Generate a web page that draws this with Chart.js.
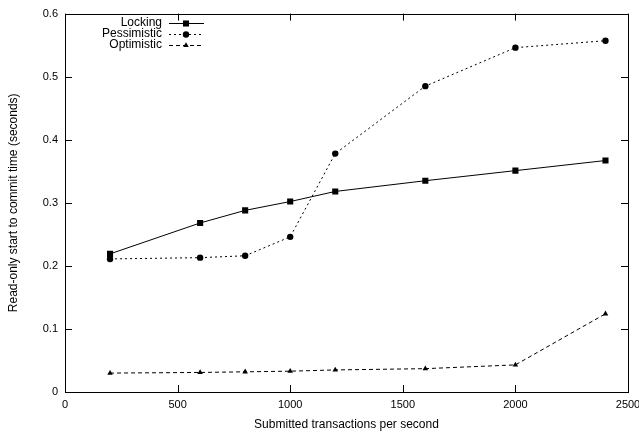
<!DOCTYPE html>
<html>
<head>
<meta charset="utf-8">
<script src="https://cdn.jsdelivr.net/npm/chart.js@4"></script>
<style>
  html, body { margin: 0; padding: 0; background: #fff; }
  #wrap { width: 639px; height: 434px; }
</style>
</head>
<body>
<div id="wrap"><canvas id="chart" width="639" height="434"></canvas></div>
<script>
var rates = [200, 600, 800, 1000, 1200, 1600, 2000, 2400];
var locking = [0.219, 0.268, 0.288, 0.302, 0.318, 0.335, 0.351, 0.367];
var pessimistic = [0.211, 0.213, 0.216, 0.246, 0.378, 0.485, 0.546, 0.557];
var optimistic = [0.030, 0.031, 0.032, 0.033, 0.035, 0.037, 0.043, 0.124];
var xTicks = [0, 500, 1000, 1500, 2000, 2500];
var yTicks = [0, 0.1, 0.2, 0.3, 0.4, 0.5, 0.6];

var font = "Liberation Sans, Arial, Helvetica, sans-serif";

function points(values) {
    return rates.map((r, i) => ({ x: r, y: values[i] }));
}

function series(label, values, style, dash, radius) {
    return {
        label: label,
        data: points(values),
        borderColor: '#000',
        backgroundColor: '#000',
        borderWidth: 1,
        borderDash: dash,
        pointStyle: style,
        pointRadius: radius,
        pointBorderWidth: 0,
        tension: 0
    };
}

// gnuplot style frame, inward ticks on all four sides
var framePlugin = {
    id: 'frame',
    afterDatasetsDraw(chart) {
        var ctx = chart.ctx, a = chart.chartArea;
        var xs = chart.scales.x, ys = chart.scales.y;
        ctx.save();
        ctx.strokeStyle = '#000';
        ctx.lineWidth = 1;
        ctx.setLineDash([]);
        ctx.strokeRect(Math.round(a.left) + 0.5, Math.round(a.top) + 0.5,
            Math.round(a.right - a.left), Math.round(a.bottom - a.top));
        ctx.beginPath();
        xTicks.forEach(v => {
            var px = Math.round(xs.getPixelForValue(v)) + 0.5;
            ctx.moveTo(px, a.bottom); ctx.lineTo(px, a.bottom - 7);
            ctx.moveTo(px, a.top); ctx.lineTo(px, a.top + 7);
        });
        yTicks.forEach(v => {
            var py = Math.round(ys.getPixelForValue(v)) + 0.5;
            ctx.moveTo(a.left, py); ctx.lineTo(a.left + 7, py);
            ctx.moveTo(a.right, py); ctx.lineTo(a.right - 7, py);
        });
        ctx.stroke();
        ctx.restore();
    }
};

// legend drawn inside the plot, text right-aligned before the sample
var keyPlugin = {
    id: 'key',
    afterDatasetsDraw(chart) {
        var ctx = chart.ctx;
        ctx.save();
        ctx.font = '12px ' + font;
        ctx.fillStyle = '#000';
        ctx.textAlign = 'right';
        ctx.textBaseline = 'middle';
        chart.data.datasets.forEach((ds, i) => {
            var y = 23 + i * 11;
            ctx.fillText(ds.label, 162, y);
            ctx.beginPath();
            ctx.setLineDash(ds.borderDash);
            ctx.lineWidth = 1;
            ctx.strokeStyle = '#000';
            ctx.moveTo(169, y + 0.5);
            ctx.lineTo(204, y + 0.5);
            ctx.stroke();
            ctx.setLineDash([]);
            Chart.helpers.drawPoint(ctx, {
                pointStyle: ds.pointStyle,
                radius: ds.pointRadius,
                borderWidth: 0
            }, 186, y + 0.5);
        });
        ctx.restore();
    }
};

new Chart(document.getElementById('chart'), {
    type: 'line',
    data: {
        datasets: [
            series('Locking', locking, 'rect', [], 4.3),
            series('Pessimistic', pessimistic, 'circle', [2, 3], 3.2),
            series('Optimistic', optimistic, 'triangle', [4, 3], 3.2)
        ]
    },
    options: {
        responsive: false,
        animation: false,
        devicePixelRatio: 1,
        layout: { padding: { top: 11, right: 11, left: 0, bottom: 0 } },
        plugins: {
            legend: { display: false },
            tooltip: { enabled: false }
        },
        scales: {
            x: {
                type: 'linear',
                min: 0,
                max: 2500,
                afterBuildTicks(scale) { scale.ticks = xTicks.map(v => ({ value: v })); },
                afterFit(scale) {
                    scale.height = 42;
                    scale.paddingLeft = 0;
                    scale.paddingRight = 0;
                },
                grid: { display: false, drawTicks: false },
                border: { display: false },
                ticks: {
                    color: '#000',
                    font: { family: font, size: 11 },
                    padding: 6,
                    maxRotation: 0,
                    autoSkip: false,
                    callback: v => String(v)
                },
                title: {
                    display: true,
                    text: 'Submitted transactions per second',
                    color: '#000',
                    font: { family: font, size: 12 },
                    padding: { top: 0, bottom: 2 }
                }
            },
            y: {
                min: 0,
                max: 0.6,
                afterBuildTicks(scale) { scale.ticks = yTicks.map(v => ({ value: v })); },
                afterFit(scale) { scale.width = 65; },
                grid: { display: false, drawTicks: false },
                border: { display: false },
                ticks: {
                    color: '#000',
                    font: { family: font, size: 11 },
                    padding: 7,
                    autoSkip: false,
                    callback: v => String(+v.toFixed(1))
                },
                title: {
                    display: true,
                    text: 'Read-only start to commit time (seconds)',
                    color: '#000',
                    font: { family: font, size: 12 },
                    padding: { top: 6, bottom: 8 }
                }
            }
        }
    },
    plugins: [framePlugin, keyPlugin]
});
</script>
</body>
</html>
